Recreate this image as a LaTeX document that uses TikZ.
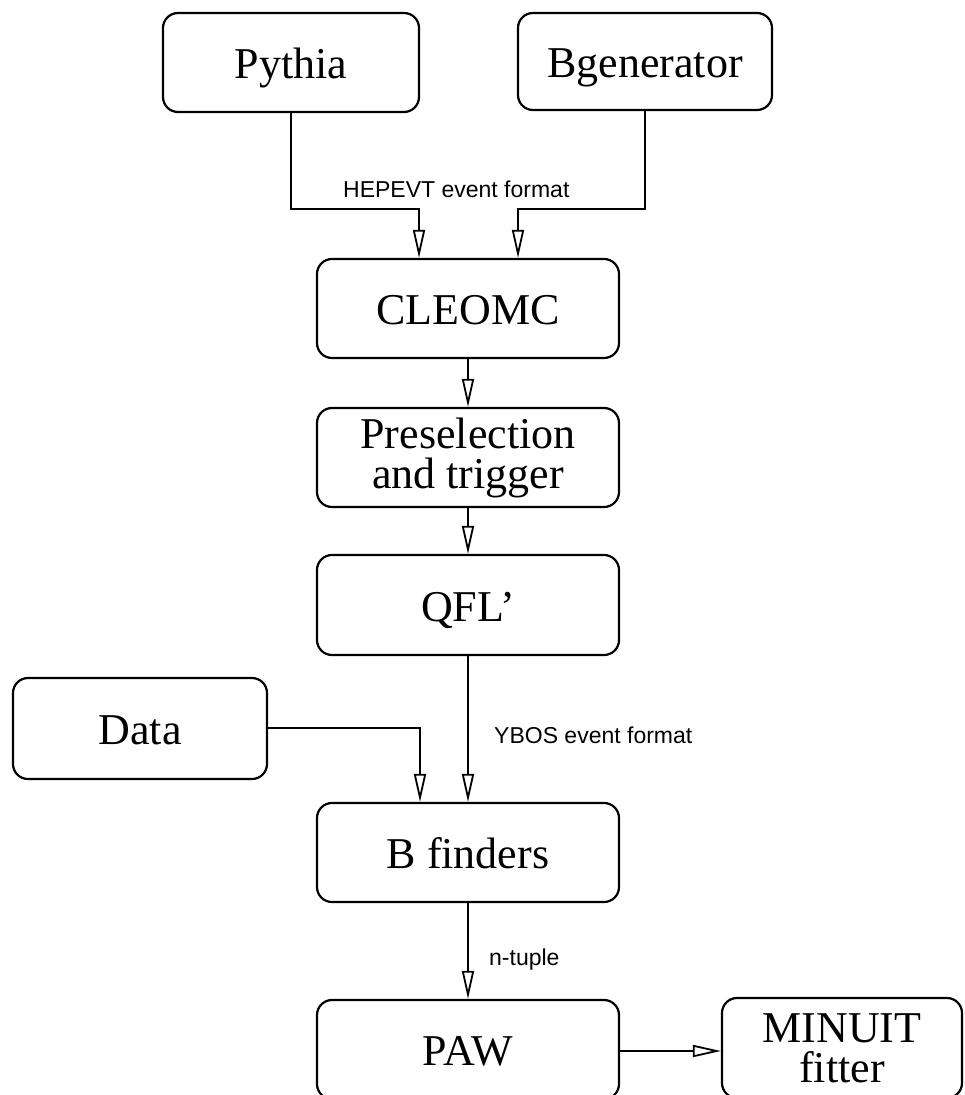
\documentclass[tikz,border=0pt]{standalone}
\usepackage{fontspec}
\setmainfont{Liberation Serif}
\newfontfamily\labfont{Liberation Sans}
\usetikzlibrary{arrows.meta}
\tikzset{
  box/.style={draw, line width=2.2pt, rounded corners=15pt, align=center,
    inner sep=0pt, font=\fontsize{44}{40}\selectfont},
  one/.style={text height=32pt, text depth=0pt},
  arr/.style={line width=1.8pt, -{Triangle[open, length=28pt, width=12pt, line width=1.8pt]}},
  lab/.style={font=\labfont\fontsize{23}{26}\selectfont, inner sep=0pt}
}
\begin{document}
\begin{tikzpicture}[x=1pt,y=-1pt]
\useasboundingbox (0,0) rectangle (965,1095);
\node[box, one, minimum width=256pt, minimum height=99pt] (pythia) at (291,62.5) {Pythia};
\node[box, one, minimum width=254pt, minimum height=97pt] (bgen) at (645,61.5) {Bgenerator};
\node[box, one, minimum width=302pt, minimum height=99pt] (cleomc) at (468,308.5) {CLEOMC};
\node[box, minimum width=302pt, minimum height=99pt] (presel) at (468,457.5) {Preselection\\and trigger};
\node[box, one, minimum width=302pt, minimum height=100pt] (qfl) at (468,605) {QFL'};
\node[box, one, minimum width=254pt, minimum height=101pt] (data) at (140,728.5) {Data};
\node[box, one, minimum width=302pt, minimum height=99pt] (bfind) at (468,852.5) {B finders};
\node[box, one, minimum width=302pt, minimum height=99pt] (paw) at (468,1049.5) {PAW};
\node[box, minimum width=240pt, minimum height=100pt] (minuit) at (842,1048) {MINUIT\\fitter};

\coordinate (e1) at (419,209);
\coordinate (e2) at (518,209);
\coordinate (d1) at (420,728);
\draw[arr] (pythia.south) |- (e1) -- (e1 |- cleomc.north);
\draw[arr] (bgen.south) |- (e2) -- (e2 |- cleomc.north);
\node[lab, anchor=base west] (hep) at (343,197) {HEPEVT event format};
\draw[arr] (cleomc.south) -- (presel.north);
\draw[arr] (presel.south) -- (qfl.north);
\draw[arr] (data.east |- d1) -- (d1) -- (d1 |- bfind.north);
\draw[arr] (qfl.south) -- (bfind.north);
\node[lab, anchor=base west] (ybos) at (494,743) {YBOS event format};
\draw[arr] (bfind.south) -- (paw.north);
\node[lab, anchor=base west] (ntup) at (489,965) {n-tuple};
\draw[arr] (paw.east |- 0,1051) -- (minuit.west |- 0,1051);
\end{tikzpicture}
\end{document}
